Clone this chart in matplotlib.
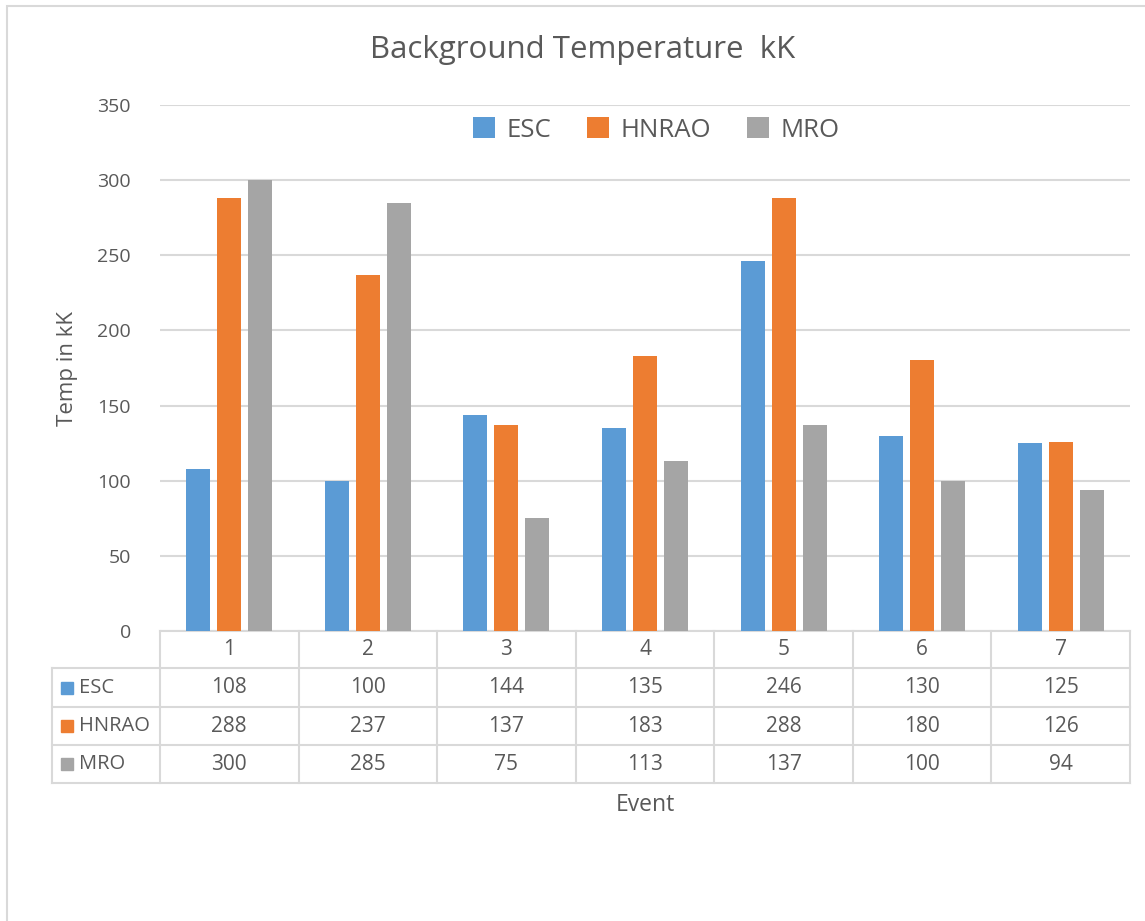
import numpy as np
import matplotlib
matplotlib.use("Agg")
import matplotlib.pyplot as plt
from matplotlib.lines import Line2D
from matplotlib.patches import Rectangle
from matplotlib.transforms import blended_transform_factory

events = ['1', '2', '3', '4', '5', '6', '7']
series_names = ['ESC', 'HNRAO', 'MRO']
esc = [108, 100, 144, 135, 246, 130, 125]
hnrao = [288, 237, 137, 183, 288, 180, 126]
mro = [300, 285, 75, 113, 137, 100, 94]
colors = ['#5b9bd5', '#ed7d31', '#a5a5a5']
yticks = [0, 50, 100, 150, 200, 250, 300, 350]

plt.rcParams['font.family'] = ['Open Sans', 'DejaVu Sans']
txt = '#595959'
grid = '#d9d9d9'

W, H = 1145, 921
fig = plt.figure(figsize=(W / 100, H / 100), dpi=100)

def fx(px):
    return px / W

def fy(py):
    return 1 - py / H

ax = fig.add_axes([fx(160), fy(631), fx(1130) - fx(160), fy(105) - fy(631)])

x = np.arange(len(events))
bw = 0.173
step = 0.224
for i, (vals, c) in enumerate(zip([esc, hnrao, mro], colors)):
    ax.bar(x + (i - 1) * step, vals, width=bw, color=c, label=series_names[i], zorder=3)

ax.set_xlim(-0.5, len(events) - 0.5)
ax.set_ylim(0, 350)
ax.set_yticks(yticks)
ax.set_yticklabels([str(t) for t in yticks], color=txt, fontsize=14)
ax.set_xticks([])
ax.yaxis.grid(True, color=grid, linewidth=1.5, zorder=0)
ax.tick_params(axis='y', length=0, pad=21)
for s in ['top', 'right', 'left']:
    ax.spines[s].set_visible(False)
ax.spines['bottom'].set_color(grid)
ax.spines['bottom'].set_linewidth(1.5)

ax.set_ylabel('Temp in kK', color=txt, fontsize=16, labelpad=14)

# title and legend
fig.text(fx(583), fy(50), 'Background Temperature  kK', ha='center', va='center',
         color=txt, fontsize=22.5)
leg = ax.legend(loc='center', bbox_to_anchor=(fx(656), fy(130)), bbox_transform=fig.transFigure,
                ncol=3, frameon=False, fontsize=18.5, handlelength=0.85, handleheight=0.85,
                handletextpad=0.45, columnspacing=1.4)
for t in leg.get_texts():
    t.set_color(txt)

# data table under the axis
tr = blended_transform_factory(ax.transData, fig.transFigure)
row_y = [631, 668, 707, 745, 783]
lw = 1.5
for y in row_y[1:]:
    fig.add_artist(Line2D([fx(52), fx(1130)], [fy(y), fy(y)], color=grid, lw=lw))
for b in np.arange(len(events) + 1) - 0.5:
    fig.add_artist(Line2D([b, b], [fy(631), fy(783)], color=grid, lw=lw, transform=tr))
fig.add_artist(Line2D([fx(52), fx(52)], [fy(668), fy(783)], color=grid, lw=lw))

for i, ev in enumerate(events):
    fig.text(i, fy((row_y[0] + row_y[1]) / 2), ev, ha='center', va='center',
             color=txt, fontsize=15, transform=tr)
for r, (name, vals, c) in enumerate(zip(series_names, [esc, hnrao, mro], colors)):
    yc = fy((row_y[r + 1] + row_y[r + 2]) / 2)
    for i, v in enumerate(vals):
        fig.text(i, yc, str(v), ha='center', va='center', color=txt, fontsize=15, transform=tr)
    fig.add_artist(Rectangle((fx(61), yc - 6 / H), 12 / W, 12 / H, color=c,
                             transform=fig.transFigure))
    fig.text(fx(79), yc, name, ha='left', va='center', color=txt, fontsize=14.5)

fig.text(fx(645), fy(805), 'Event', ha='center', va='center', color=txt, fontsize=16.5)

# chart border
fig.add_artist(Rectangle((fx(7), fy(H + 10)), 1.1, fy(6) - fy(H + 10), fill=False,
                         edgecolor=grid, lw=1.5, transform=fig.transFigure))

fig.savefig('out.png', dpi=100)
